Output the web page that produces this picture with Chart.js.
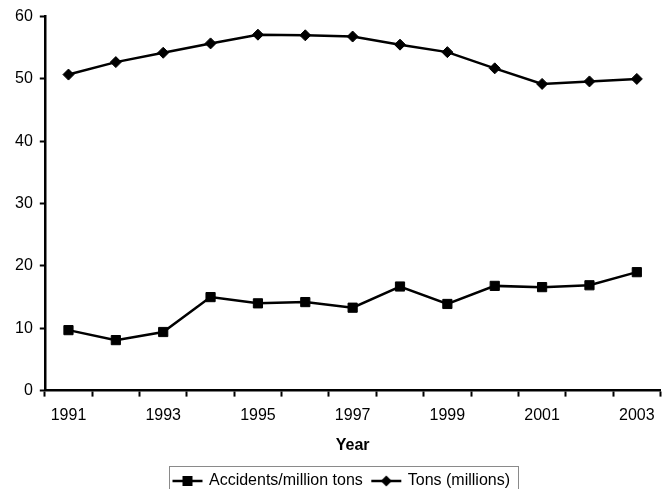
<!DOCTYPE html>
<html>
<head>
<meta charset="utf-8">
<script src="https://cdn.jsdelivr.net/npm/chart.js@4/dist/chart.umd.min.js"></script>
<style>
	html, body { margin: 0; padding: 0; background: #fff; }
	.wrapper { width: 668px; height: 489px; }
</style>
</head>
<body>
<div class="wrapper"><canvas id="accidentsChart"></canvas></div>
<script>
const years = ['1991', '1992', '1993', '1994', '1995', '1996', '1997', '1998', '1999', '2000', '2001', '2002', '2003']
const accidentsPerMillion = [9.7, 8.1, 9.4, 15.0, 14.0, 14.2, 13.3, 16.7, 13.9, 16.8, 16.6, 16.9, 19.0]
const tonsMillions = [50.7, 52.7, 54.2, 55.7, 57.1, 57.0, 56.8, 55.5, 54.3, 51.7, 49.2, 49.6, 50.0]
const yTicks = [0, 10, 20, 30, 40, 50, 60]

const FONT = 'Liberation Sans, Arial, sans-serif'

// small line+marker picture used as the legend symbol
function legendSymbol(style) {
	const c = document.createElement('canvas')
	c.width = 32
	c.height = 14
	const ctx = c.getContext('2d')
	ctx.strokeStyle = '#000'
	ctx.fillStyle = '#000'
	ctx.lineWidth = 2.5
	ctx.beginPath()
	ctx.moveTo(1, 7)
	ctx.lineTo(31, 7)
	ctx.stroke()
	ctx.beginPath()
	if (style === 'rect') {
		ctx.rect(11, 2, 10, 10)
	} else {
		ctx.moveTo(16, 1.5)
		ctx.lineTo(21.5, 7)
		ctx.lineTo(16, 12.5)
		ctx.lineTo(10.5, 7)
		ctx.closePath()
	}
	ctx.fill()
	return c
}

// nudge the legend a little right and put a border round it
// (bottom edge runs off the canvas like the original)
const LEGEND_SHIFT = 7
const legendBorder = {
	id: 'legendBorder',
	afterLayout(chart) {
		const legend = chart.legend
		legend.left += LEGEND_SHIFT
		legend.right += LEGEND_SHIFT
		legend.legendHitBoxes.forEach(box => {
			box.left += LEGEND_SHIFT
		})
	},
	afterDraw(chart) {
		const boxes = chart.legend.legendHitBoxes
		if (!boxes || !boxes.length) return
		const first = boxes[0]
		const last = boxes[boxes.length - 1]
		const ctx = chart.ctx
		ctx.save()
		ctx.strokeStyle = '#8a8a8a'
		ctx.lineWidth = 1
		ctx.strokeRect(Math.round(first.left) - 4.5, Math.round(first.top) - 6.5, Math.round(last.left + last.width - first.left) + 13, 40)
		ctx.restore()
	}
}

const ctx = document.getElementById('accidentsChart').getContext('2d')
new Chart(ctx, {
	type: 'line',
	data: {
		labels: years,
		datasets: [
			{
				label: 'Accidents/million tons',
				data: accidentsPerMillion,
				borderColor: '#000',
				backgroundColor: '#000',
				borderWidth: 2.5,
				tension: 0,
				pointStyle: 'rect',
				pointRadius: 6.5,
				pointBorderWidth: 1,
				legendStyle: 'rect',
			},
			{
				label: 'Tons (millions)',
				data: tonsMillions,
				borderColor: '#000',
				backgroundColor: '#000',
				borderWidth: 2.5,
				tension: 0,
				pointStyle: 'rectRot',
				pointRadius: 5.5,
				pointBorderWidth: 1,
				legendStyle: 'diamond',
			},
		],
	},
	options: {
		responsive: true,
		maintainAspectRatio: false,
		animation: false,
		layout: {
			padding: { left: 8, right: 6, top: 15, bottom: -10 },
		},
		scales: {
			x: {
				offset: true,
				grid: {
					offset: true,
					drawOnChartArea: false,
					drawTicks: true,
					tickLength: 6,
					tickWidth: 2,
					tickColor: '#000',
				},
				border: { color: '#000', width: 2.5 },
				ticks: {
					autoSkip: false,
					maxRotation: 0,
					padding: 9,
					color: '#000',
					font: { family: FONT, size: 16 },
					callback: function (value, index) {
						return index % 2 === 0 ? years[index] : ''
					},
				},
				title: {
					display: true,
					text: 'Year',
					color: '#000',
					font: { family: FONT, size: 16, weight: 'bold' },
					padding: { top: 2, bottom: 8 },
				},
			},
			y: {
				min: yTicks[0],
				max: yTicks[yTicks.length - 1],
				afterBuildTicks: axis => {
					axis.ticks = yTicks.map(v => ({ value: v }))
				},
				grid: {
					drawOnChartArea: false,
					drawTicks: true,
					tickLength: 5,
					tickWidth: 2,
					tickColor: '#000',
				},
				border: { color: '#000', width: 2.5 },
				ticks: {
					padding: 7,
					color: '#000',
					font: { family: FONT, size: 16 },
				},
			},
		},
		plugins: {
			title: { display: false },
			tooltip: { enabled: false },
			legend: {
				position: 'bottom',
				labels: {
					usePointStyle: true,
					pointStyleWidth: 27,
					padding: 10,
					color: '#000',
					font: { family: FONT, size: 16 },
					generateLabels: chart =>
						chart.data.datasets.map((ds, i) => ({
							text: ds.label,
							pointStyle: legendSymbol(ds.legendStyle),
							fillStyle: '#000',
							strokeStyle: '#000',
							lineWidth: 0,
							hidden: false,
							datasetIndex: i,
							fontColor: '#000',
						})),
				},
			},
		},
	},
	plugins: [legendBorder],
})
</script>
</body>
</html>
